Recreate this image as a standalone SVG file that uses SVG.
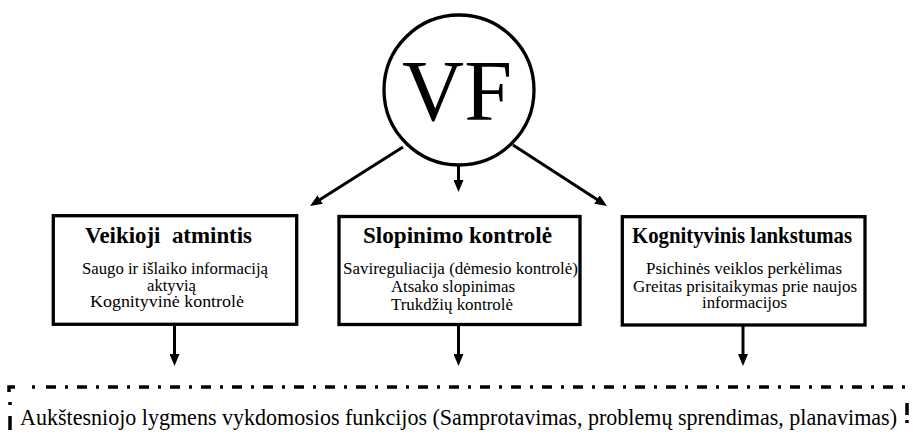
<svg xmlns="http://www.w3.org/2000/svg" width="913" height="438" viewBox="0 0 913 438">
<style>
  .box { fill: #fff; stroke: #000; stroke-width: 3.3; }
  .title { font-family: "Liberation Serif", "Times New Roman", serif; font-weight: bold; font-size: 22.5px; fill: #000; }
  .body { font-family: "Liberation Serif", "Times New Roman", serif; font-size: 16.5px; fill: #000; }
  .conn { stroke: #000; stroke-width: 3; fill: none; marker-end: url(#arrow); }
  .dd { stroke: #000; stroke-width: 3.5; fill: none; }
</style>
<defs>
  <marker id="arrow" markerUnits="userSpaceOnUse" viewBox="0 0 12 10" markerWidth="12" markerHeight="10" refX="2" refY="5" orient="auto">
    <path d="M0,0 L12,5 L0,10 z" fill="#000"/>
  </marker>
</defs>
<rect width="913" height="438" fill="#fff"/>

<g id="connectors">
  <line class="conn" x1="403" y1="147" x2="318.5" y2="200.6"/>
  <line class="conn" x1="458.5" y1="166" x2="458.5" y2="182"/>
  <line class="conn" x1="513" y1="145" x2="598.6" y2="200.6"/>
  <line class="conn" x1="174.5" y1="326" x2="174.5" y2="356"/>
  <line class="conn" x1="458.5" y1="326" x2="458.5" y2="356"/>
  <line class="conn" x1="743" y1="326" x2="743" y2="356"/>
</g>

<g id="vf">
  <circle cx="459" cy="90" r="75" fill="#fff" stroke="#000" stroke-width="3.3"/>
  <text x="457" y="120" text-anchor="middle" font-family="Liberation Serif, Times New Roman, serif" font-size="86" fill="#000">VF</text>
</g>

<g id="veikioji">
  <rect class="box" x="53.3" y="215.7" width="243.4" height="108.6"/>
  <text class="title" x="85" y="243" textLength="167" lengthAdjust="spacingAndGlyphs" xml:space="preserve">Veikioji  atmintis</text>
  <text class="body" x="82" y="274" textLength="186" lengthAdjust="spacingAndGlyphs">Saugo ir išlaiko informaciją</text>
  <text class="body" x="147" y="290.5" textLength="49" lengthAdjust="spacingAndGlyphs">aktyvią</text>
  <text class="body" x="90" y="307" textLength="154" lengthAdjust="spacingAndGlyphs">Kognityvinė kontrolė</text>
</g>

<g id="slopinimo">
  <rect class="box" x="339" y="216.5" width="241" height="108"/>
  <text class="title" x="363" y="243" textLength="189" lengthAdjust="spacingAndGlyphs">Slopinimo kontrolė</text>
  <text class="body" x="343" y="274" textLength="235" lengthAdjust="spacingAndGlyphs">Savireguliacija (dėmesio kontrolė)</text>
  <text class="body" x="391" y="292" textLength="124" lengthAdjust="spacingAndGlyphs">Atsako slopinimas</text>
  <text class="body" x="391" y="310" textLength="122" lengthAdjust="spacingAndGlyphs">Trukdžių kontrolė</text>
</g>

<g id="kognityvinis">
  <rect class="box" x="622.3" y="216.7" width="242.7" height="108.3"/>
  <text class="title" x="632" y="243" textLength="220" lengthAdjust="spacingAndGlyphs">Kognityvinis lankstumas</text>
  <text class="body" x="646" y="274" textLength="196" lengthAdjust="spacingAndGlyphs">Psichinės veiklos perkėlimas</text>
  <text class="body" x="633" y="292" textLength="224" lengthAdjust="spacingAndGlyphs">Greitas prisitaikymas prie naujos</text>
  <text class="body" x="702" y="308" textLength="85" lengthAdjust="spacingAndGlyphs">informacijos</text>
</g>

<g id="aukstesniojo">
  <path class="dd" d="M9,392 V387 H907" stroke-dasharray="11 17 3 11 10 9 3 9 10 9 3 9 10 9 3 9 10 9 3 9 10 9 3 9 10 9 3 9 10 9 3 9 10 9 3 9 10 9 3 9 10 9 3 9 10 9 3 9 10 9 3 9 10 9 3 9 10 9 3 9 10 9 3 9 10 9 3 9 10 9 3 9 10 9 3 9 10 9 3 9 10 9 3 9 10 9 3 9 10 9 3 9 10 9 3 9 10 9 3 9 10 9 3 9 10 9 3 9 10 9 3 9 10 9 3 9 10 9 3 9 10 9 3 9 10 9 3 9 10 9 3 9 10 9 3 9"/>
  <line class="dd" x1="10" y1="402" x2="10" y2="405"/>
  <line class="dd" x1="10" y1="416" x2="10" y2="430"/>
  <line class="dd" x1="907" y1="403" x2="907" y2="415"/>
  <line class="dd" x1="907" y1="420" x2="907" y2="423"/>
  <text x="20" y="425" font-family="Liberation Serif, Times New Roman, serif" font-size="22.5" fill="#000" textLength="877" lengthAdjust="spacingAndGlyphs">Aukštesniojo lygmens vykdomosios funkcijos (Samprotavimas, problemų sprendimas, planavimas)</text>
</g>
</svg>
